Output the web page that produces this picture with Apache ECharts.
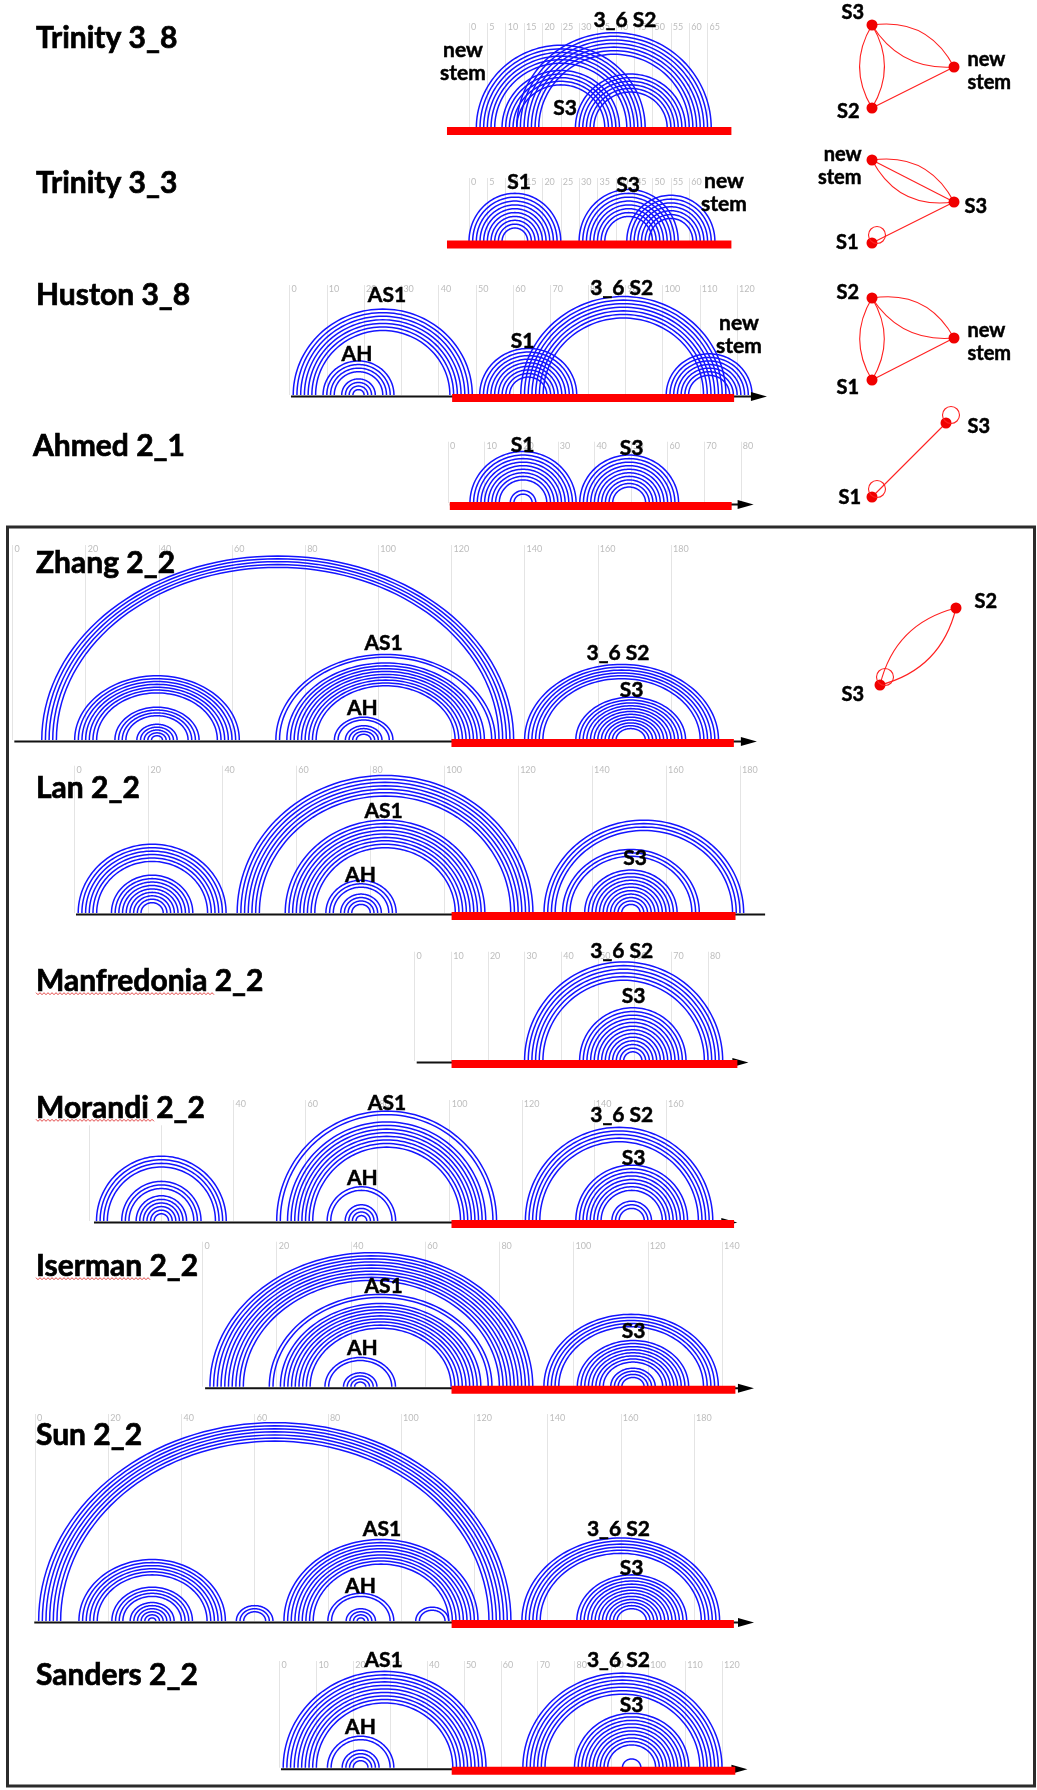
<!DOCTYPE html>
<html>
<head>
<meta charset="utf-8">
<script src="https://cdn.jsdelivr.net/npm/echarts@6/dist/echarts.min.js"></script>
<style>
  html, body { margin: 0; padding: 0; background: #fff; }
  #chart { width: 1037px; height: 1790px; }
</style>
</head>
<body>
<div id="chart"></div>
<script>
// ---------- data ----------
const panelNames = ['Trinity 3_8', 'Trinity 3_3', 'Huston 3_8', 'Ahmed 2_1', 'Zhang 2_2', 'Lan 2_2',
  'Manfredonia 2_2', 'Morandi 2_2', 'Iserman 2_2', 'Sun 2_2', 'Sanders 2_2'];

// axis ticks per panel: [first, last, step]
const tickRanges = [[0, 65, 5], [0, 60, 5], [0, 120, 10], [0, 80, 10], [0, 180, 20], [0, 180, 20],
  [0, 80, 10], [0, 160, 20], [0, 140, 20], [0, 180, 20], [0, 120, 10]];

// helices: [5' position, paired 3' position, number of stacked base pairs]
const helicesTrinity38 = [[2, 48, 6], [9, 41, 5], [13, 66, 7], [29, 59, 6]];
const helicesTrinity33 = [[0, 25, 10], [30, 57, 8], [43, 67, 7]];
const helicesHuston38 = [[1, 49, 7], [9, 28, 4], [14, 23, 4], [51, 77, 9], [62, 117, 7], [101, 124, 7]];
const helicesAhmed21 = [[6, 35, 9], [17, 24, 2], [36, 63, 10]];
const helicesZhang22 = [[8, 137, 5], [17, 62, 7], [28, 51, 4], [34, 45, 5], [72, 132, 2], [75, 129, 9],
  [88, 104, 2], [91, 101, 4], [140, 193, 6], [154, 184, 12]];
const helicesLan22 = [[1, 41, 6], [10, 32, 4], [14, 28, 5], [44, 124, 7], [57, 111, 9], [68, 87, 3],
  [72, 83, 4], [127, 181, 4], [132, 169, 3], [138, 163, 11]];
const helicesManfredonia22 = [[30, 84, 6], [45, 74, 13]];
const helicesMorandi22 = [[2, 38, 4], [9, 31, 3], [13, 27, 6], [52, 113, 2], [55, 110, 8], [66, 85, 2],
  [71, 80, 4], [121, 173, 5], [135, 166, 8], [145, 156, 3]];
const helicesIserman22 = [[2, 89, 8], [10, 81, 2], [18, 78, 2], [21, 75, 9], [33, 52, 2], [38, 47, 4],
  [92, 139, 5], [101, 131, 8], [110, 122, 4]];
const helicesSun22 = [[1, 130, 7], [12, 52, 6], [21, 43, 4], [26, 38, 6], [55, 65, 3], [68, 121, 9],
  [80, 98, 2], [85, 93, 4], [104, 113, 2], [133, 187, 6], [148, 178, 12]];
const helicesSanders22 = [[1, 56, 10], [13, 31, 2], [17, 27, 4], [66, 120, 7], [80, 111, 10], [93, 98, 1]];

const helices = [helicesTrinity38, helicesTrinity33, helicesHuston38, helicesAhmed21, helicesZhang22,
  helicesLan22, helicesManfredonia22, helicesMorandi22, helicesIserman22, helicesSun22, helicesSanders22];

// highlighted region on each sequence axis [start, end]
const redRegions = [[-6, 71.5], [-6, 71.5], [43.6, 119.2], [0.5, 77.5], [120, 197.2], [102, 178.8],
  [10.1, 88], [100.5, 178.9], [67.1, 143.6], [113.8, 190.9], [46.7, 123.6]];
// sequence axis line [start, end]
const axisSpans = [null, null, [0.4, 128], [0.5, 83.5], [0.5, 203.5], [0.4, 186.8], [0.6, 91],
  [1.3, 179.8], [0.7, 148.6], [-0.2, 196.4], [0.4, 126.9]];
const axisArrows = [false, false, true, true, true, false, true, true, true, true, true];

// stem labels per panel
const stemLabels = [
  ['3_6 S2', 'new\nstem', 'S3'],
  ['S1', 'S3', 'new\nstem'],
  ['AS1', 'AH', 'S1', '3_6 S2', 'new\nstem'],
  ['S1', 'S3'],
  ['AS1', 'AH', '3_6 S2', 'S3'],
  ['AS1', 'AH', 'S3'],
  ['3_6 S2', 'S3'],
  ['AS1', 'AH', '3_6 S2', 'S3'],
  ['AS1', 'AH', 'S3'],
  ['AS1', 'AH', '3_6 S2', 'S3'],
  ['AS1', 'AH', '3_6 S2', 'S3']
];

// stem interaction graphs: links [source, target, curveness]; a link to itself is a self-loop
const graphNodes = [
  ['S3', 'S2', 'new stem'],
  ['new stem', 'S3', 'S1'],
  ['S2', 'S1', 'new stem'],
  ['S3', 'S1'],
  ['S2', 'S3']
];
const graphLinks = [
  [['S3', 'S2', 0.3], ['S3', 'S2', -0.3], ['S3', 'new stem', 0.35], ['S3', 'new stem', -0.3], ['S2', 'new stem', 0]],
  [['new stem', 'S3', 0.35], ['new stem', 'S3', 0], ['new stem', 'S3', -0.35], ['S1', 'S3', 0], ['S1', 'S1', 0]],
  [['S2', 'S1', 0.3], ['S2', 'S1', -0.3], ['S2', 'new stem', 0.35], ['S2', 'new stem', -0.3], ['S1', 'new stem', 0]],
  [['S1', 'S3', 0], ['S3', 'S3', 0], ['S1', 'S1', 0]],
  [['S2', 'S3', 0.3], ['S2', 'S3', -0.3], ['S3', 'S3', 0]]
];

// ---------- layout ----------
const FONT = 'Lato, "Open Sans", sans-serif';
const BLUE = '#1414ff';
const RED = '#ff0000';

// x0: pixel of position 0, k: pixels per nucleotide, ratio: arc height / half-span, base: baseline y, top: grid top
const panelLayout = [
  { x0: 469, k: 3.67, ratio: 0.98, base: 128, top: 23, titleX: 36, titleY: 38 },
  { x0: 469, k: 3.67, ratio: 1.05, base: 241.5, top: 178, titleX: 36, titleY: 183 },
  { x0: 289.5, k: 3.73, ratio: 0.96, base: 395, top: 285, titleX: 36, titleY: 295 },
  { x0: 448, k: 3.66, ratio: 0.97, base: 503, top: 441.7, titleX: 33, titleY: 446.7 },
  { x0: 12.5, k: 3.658, ratio: 0.78, base: 740, top: 545, titleX: 36, titleY: 563 },
  { x0: 74.5, k: 3.697, ratio: 0.93, base: 913, top: 765.7, titleX: 36, titleY: 788 },
  { x0: 414.5, k: 3.669, ratio: 1.0, base: 1061, top: 951.7, titleX: 36, titleY: 981.7, squiggle: 179 },
  { x0: 89.3, k: 3.604, ratio: 1.0, base: 1221, top: 1100, titleX: 36, titleY: 1108.3, squiggle: 119, mask: true },
  { x0: 202.5, k: 3.711, ratio: 0.83, base: 1386.7, top: 1241.7, titleX: 36, titleY: 1266.7, squiggle: 115 },
  { x0: 35, k: 3.661, ratio: 0.84, base: 1621, top: 1414, titleX: 36, titleY: 1435 },
  { x0: 279.5, k: 3.6875, ratio: 0.95, base: 1767.7, top: 1661, titleX: 36, titleY: 1675 }
];

// label centres (px) in the same order as stemLabels
const stemLabelPos = [
  [[625, 20], [463, 61.5], [565, 108]],
  [[519, 182], [628, 185], [724, 192.5]],
  [[387, 295], [357, 354], [522.5, 341.7], [621.7, 288], [739, 334.5]],
  [[522.5, 445], [631.6, 448]],
  [[383.6, 643], [362.4, 708], [618, 653], [631.6, 690]],
  [[383.6, 811.7], [360.5, 875], [635, 858]],
  [[621.7, 951.7], [633.6, 996.7]],
  [[387, 1103], [362.4, 1178], [621.7, 1115], [633.6, 1158]],
  [[383.6, 1286.7], [362.4, 1348.3], [633.6, 1331.7]],
  [[382, 1529], [360.5, 1586], [618.4, 1529], [631.6, 1568.3]],
  [[383.6, 1660.7], [360.5, 1727.3], [618.4, 1660.7], [631.6, 1705]]
];

// node placement for each graph: [x, y, labelSide, labelDistance, labelDy]
const graphPlacement = [
  [[872, 25, 'left', 2.5, -12], [872, 108, 'left', 7, 4], [954, 67, 'right', 8, 4.5]],
  [[872, 160, 'left', 5, 6.5], [954, 202, 'right', 5, 4.7], [872, 243, 'left', 8, 0]],
  [[872, 298, 'left', 7.5, -5], [872, 380, 'left', 7.5, 8], [954, 338, 'right', 8, 4]],
  [[946, 423, 'right', 16, 4], [872, 497, 'left', 5.5, 1]],
  [[956, 608, 'right', 13, -6], [880, 685, 'left', 10.5, 10]]
];
// self-loop ring offset from its node centre [dx, dy, radius]
const loopOffset = [5, -8, 8.5];

// heavier strokes for the bold annotation text
const TEXT_EDGE = { stroke: '#000', lineWidth: 0.7 };

// ---------- renderers ----------
function arcItem(params, api) {
  const a0 = api.value(0), b0 = api.value(1), n = api.value(2);
  const children = [];
  for (let m = 0; m < n; m++) {
    const a = a0 + m, b = b0 - m;
    const c = (a + b) / 2, h = (b - a) / 2;
    const pts = [];
    const steps = 72;
    for (let s = 0; s <= steps; s++) {
      const t = Math.PI * s / steps;
      pts.push(api.coord([c - h * Math.cos(t), h * Math.sin(t)]));
    }
    children.push({
      type: 'polyline', shape: { points: pts },
      style: { stroke: BLUE, lineWidth: 1.5, fill: null }
    });
  }
  return { type: 'group', children };
}

function redItem(params, api) {
  const p0 = api.coord([api.value(0), 0]);
  const p1 = api.coord([api.value(1), 0]);
  return {
    type: 'rect',
    shape: { x: p0[0], y: p0[1] - 1, width: p1[0] - p0[0], height: 8 },
    style: { fill: RED }
  };
}

function axisItemFactory(withArrow) {
  return function (params, api) {
    const p0 = api.coord([api.value(0), 0]);
    const p1 = api.coord([api.value(1), 0]);
    const y = p0[1] + 1.5;
    const len = 16, half = 4.5;
    const endX = withArrow ? p1[0] - len + 1 : p1[0];
    const children = [{
      type: 'line', shape: { x1: p0[0], y1: y, x2: endX, y2: y },
      style: { stroke: '#111', lineWidth: 2 }
    }];
    if (withArrow) {
      children.push({
        type: 'polygon',
        shape: { points: [[p1[0], y], [p1[0] - len, y - half], [p1[0] - len, y + half]] },
        style: { fill: '#000' }
      });
    }
    return { type: 'group', children };
  };
}

// ---------- option ----------
const grids = [], xAxes = [], yAxes = [], series = [], graphics = [];

panelLayout.forEach((L, i) => {
  const [tMin, tMax, tStep] = tickRanges[i];
  const height = L.base - L.top;
  grids.push({ left: L.x0 + tMin * L.k, top: L.top, width: (tMax - tMin) * L.k, height: height });
  xAxes.push({
    gridIndex: i, type: 'value', position: 'top', min: tMin, max: tMax, interval: tStep,
    axisLine: { show: false }, axisTick: { show: false },
    splitLine: { show: true, lineStyle: { color: '#e4e4e4', width: 1 } },
    axisLabel: {
      show: true, margin: 0, align: 'left', verticalAlign: 'top', padding: [0, 0, 0, 2],
      color: '#bdbdbd', fontSize: 9, fontFamily: FONT
    }
  });
  yAxes.push({ gridIndex: i, type: 'value', min: 0, max: height / (L.k * L.ratio), show: false });

  series.push({
    type: 'custom', name: panelNames[i], xAxisIndex: i, yAxisIndex: i,
    data: helices[i], renderItem: arcItem, z: 2, silent: true, animation: false
  });
  if (axisSpans[i]) {
    series.push({
      type: 'custom', xAxisIndex: i, yAxisIndex: i, data: [axisSpans[i]],
      renderItem: axisItemFactory(axisArrows[i]), z: 3, silent: true, animation: false
    });
  }
  series.push({
    type: 'custom', xAxisIndex: i, yAxisIndex: i, data: [redRegions[i]],
    renderItem: redItem, z: 4, silent: true, animation: false
  });

  // panel title
  graphics.push({
    type: 'text', x: L.titleX, y: L.titleY, z: 100,
    style: Object.assign({
      text: panelNames[i], font: 'bold 30px ' + FONT, fill: '#000',
      align: 'left', verticalAlign: 'middle',
      backgroundColor: L.mask ? '#fff' : null, padding: L.mask ? [2, 4, 2, 0] : 0
    }, TEXT_EDGE)
  });
  if (L.squiggle) {
    const pts = [];
    const yq = L.titleY + 12;
    for (let x = L.titleX; x <= L.titleX + L.squiggle; x += 2) {
      pts.push([x, yq + (((x - L.titleX) / 2) % 2 === 0 ? -1 : 1)]);
    }
    graphics.push({
      type: 'polyline', z: 100, shape: { points: pts },
      style: { stroke: '#e03030', lineWidth: 0.9, fill: null }
    });
  }
  // stem labels
  stemLabels[i].forEach((t, j) => {
    const p = stemLabelPos[i][j];
    graphics.push({
      type: 'text', x: p[0], y: p[1], z: 100,
      style: Object.assign({
        text: t, font: 'bold 21px ' + FONT, fill: '#000', lineHeight: 23,
        align: 'center', verticalAlign: 'middle'
      }, { stroke: '#000', lineWidth: 0.5 })
    });
  });
});

// stem interaction graphs
graphNodes.forEach((names, g) => {
  const place = graphPlacement[g];
  const xs = place.map(p => p[0]), ys = place.map(p => p[1]);
  const minX = Math.min(...xs), maxX = Math.max(...xs), minY = Math.min(...ys), maxY = Math.max(...ys);
  const links = graphLinks[g];
  series.push({
    type: 'graph', layout: 'none', silent: true, animation: false, roam: false,
    left: minX, top: minY, width: maxX - minX, height: maxY - minY,
    symbolSize: 11, z: 5,
    itemStyle: { color: '#f00000' },
    lineStyle: { color: '#ff2020', width: 1.1, opacity: 1 },
    edgeSymbol: ['none', 'none'],
    data: names.map((nm, j) => ({
      name: nm, x: place[j][0], y: place[j][1],
      label: {
        show: true, position: place[j][2], distance: place[j][3], offset: [0, place[j][4]],
        formatter: nm.replace(' ', '\n'), color: '#000', fontFamily: FONT, fontWeight: 'bold',
        fontSize: 20, lineHeight: 23, align: place[j][2] === 'left' ? 'right' : 'left',
        textBorderColor: '#000', textBorderWidth: 0.5
      }
    })),
    links: links.filter(l => l[0] !== l[1])
      .map(l => ({ source: l[0], target: l[1], lineStyle: { curveness: l[2] } }))
  });
  // self-loops drawn as small rings attached to their node
  links.filter(l => l[0] === l[1]).forEach(l => {
    const p = place[names.indexOf(l[0])];
    graphics.push({
      type: 'circle', z: 95,
      shape: { cx: p[0] + loopOffset[0], cy: p[1] + loopOffset[1], r: loopOffset[2] },
      style: { stroke: '#ff2020', lineWidth: 1.1, fill: null }
    });
  });
});

// frame around the two-stem group
graphics.push({
  type: 'rect', z: 90,
  shape: { x: 7.5, y: 527, width: 1027, height: 1259 },
  style: { stroke: '#2b2b2b', lineWidth: 3, fill: null }
});

const chart = echarts.init(document.getElementById('chart'), null, { renderer: 'canvas' });
chart.setOption({
  backgroundColor: '#fff',
  animation: false,
  grid: grids,
  xAxis: xAxes,
  yAxis: yAxes,
  series: series,
  graphic: graphics
});
</script>
</body>
</html>
